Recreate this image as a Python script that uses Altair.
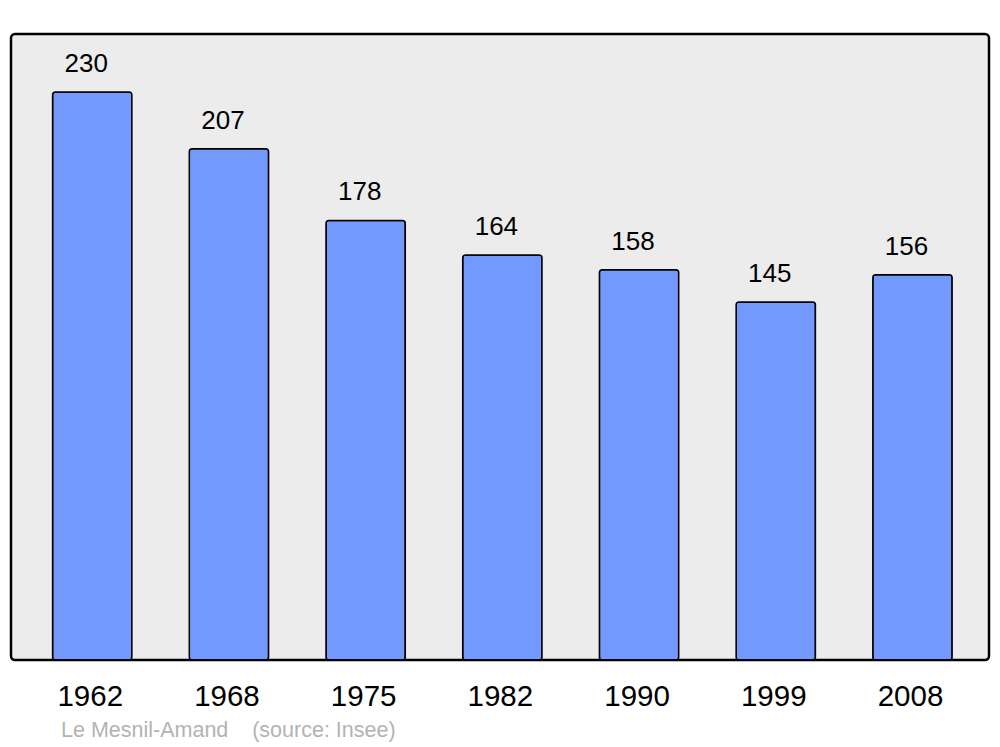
import altair as alt
import pandas as pd

years = ["1962", "1968", "1975", "1982", "1990", "1999", "2008"]
population = [230, 207, 178, 164, 158, 145, 156]
caption = ["Le Mesnil-Amand\u00a0\u00a0\u00a0\u00a0(source: Insee)"]

df = pd.DataFrame({"year": years, "pop": population})

FONT = "Liberation Sans"

x = alt.X("year:N", sort=years, title=None,
          scale=alt.Scale(paddingInner=0.42, paddingOuter=0.287, align=0.53),
          axis=alt.Axis(labelFontSize=29.5, labelFont=FONT, labelColor="black",
                        ticks=False, domain=False, grid=False, labelAngle=0,
                        labelPadding=22, labelOffset=-2))
y = alt.Y("pop:Q", title=None, scale=alt.Scale(domain=[0, 253.5], nice=False, zero=True),
          axis=None)

base = alt.Chart(df)

bars = base.mark_bar(fill="#7399ff", stroke="black", strokeWidth=1.5,
                     cornerRadius=3).encode(x=x, y=y)

labels = base.mark_text(font=FONT, fontSize=26, color="black", baseline="middle",
                        dy=-28, dx=-6).encode(x=x, y=y, text="pop:Q")

cap = alt.Chart(pd.DataFrame({"t": caption})).mark_text(
    font=FONT, fontSize=21.5, color="#b3b3b3", align="left", baseline="middle"
).encode(x=alt.value(50), y=alt.value(697), text="t:N")

chart = alt.layer(bars, labels, cap).properties(
    width=978, height=626,
    autosize=alt.AutoSizeParams(type="none"),
    padding={"left": 3, "top": 26, "right": 3, "bottom": 85},
).configure_view(
    fill="#ececec", stroke="black", strokeWidth=2.5, cornerRadius=4
)

chart.save("out.html", embed_options={"renderer": "svg", "actions": False})
